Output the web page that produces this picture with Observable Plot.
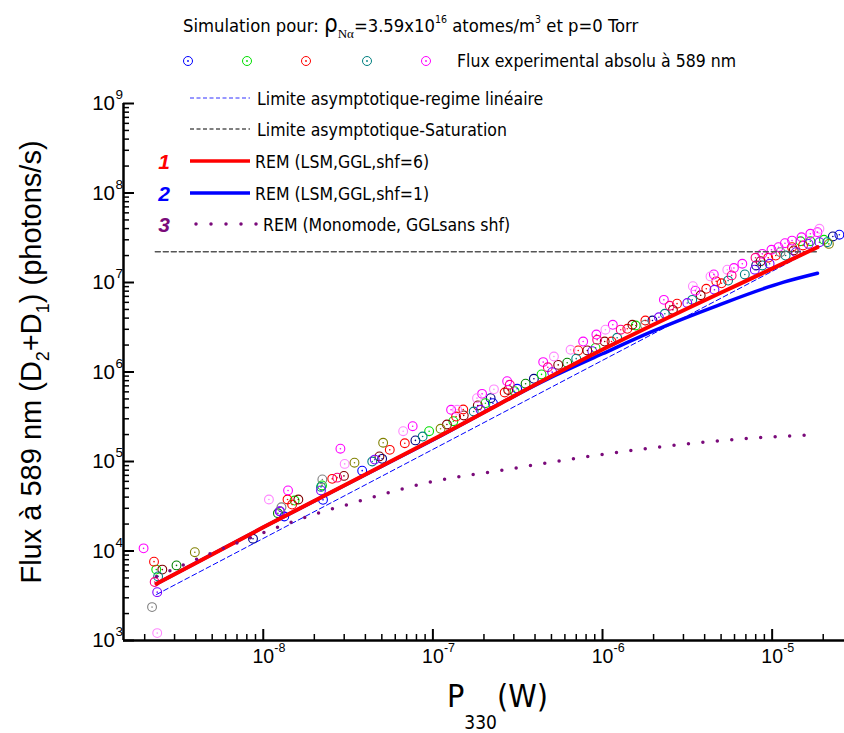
<!DOCTYPE html>
<html><head><meta charset="utf-8">
<script src="https://cdn.jsdelivr.net/npm/d3@7"></script>
<script src="https://cdn.jsdelivr.net/npm/@observablehq/plot@0.6"></script>
<style>
html,body{margin:0;padding:0;background:#fff;}
#chart{width:844px;height:733px;}
</style></head><body><div id="chart"></div>
<script>
// ---------- DATA (P330 in W, Flux in photons/s) ----------
const ptsBlue = [[1.33e-8,2.43e4],[2.25e-8,3.73e4],[3.83e-8,7.9e4],[2.26e-7,4.48e5],[3.14e-7,6.5e5],[2.49e-5,3.42e7]];
const ptsNavy = [[8.7e-9,1.37e4],[5.02e-8,1.07e5],[7.89e-8,1.72e5],[2.19e-7,5.1e5],[3.94e-7,8.4e5],[1.97e-6,3.76e6],[8.05e-6,1.55e7],[2.28e-5,3.27e7]];
const ptsGreen = [[2.34e-9,6.2e3],[1.53e-8,3.66e4],[2.22e-8,5.4e4],[9.5e-8,2.18e5],[1.32e-7,2.82e5],[2.04e-7,4.48e5],[3.03e-7,6.1e5],[4.37e-7,9.4e5],[9.1e-7,1.86e6],[1.57e-6,3.31e6],[1.47e-5,2.89e7],[1.68e-5,2.89e7],[2.02e-5,3.0e7]];
const ptsDarkGreen = [[3.08e-9,6.9e3],[1.22e-8,2.64e4],[3.52e-7,7.4e5],[6.19e-7,1.27e6]];
const ptsRed = [[2.27e-9,7.6e3],[1.39e-8,3.76e4],[1.48e-8,3.3e4],[2.55e-8,6.4e4],[5.57e-8,1.35e5],[6.83e-8,1.6e5],[1.37e-7,3.18e5],[1.51e-7,3.81e5],[2.65e-7,5.9e5],[7.19e-7,1.74e6],[1.13e-6,2.19e6],[1.40e-6,3.04e6],[1.79e-6,3.76e6],[2.75e-6,5.8e6],[4.09e-6,8.5e6],[4.68e-6,1.03e7],[5.03e-6,9.8e6],[9.48e-6,1.89e7],[1.05e-5,2.0e7],[1.31e-5,2.48e7],[1.52e-5,2.59e7]];
const ptsDarkRed = [[2.54e-9,6.2e3],[1.61e-8,3.76e4],[2.99e-8,6.9e4],[4.84e-8,1.14e5],[1.21e-7,2.59e5],[1.52e-7,3.27e5],[1.84e-7,4.23e5],[2.78e-7,6.3e5],[5.48e-7,1.2e6],[8.13e-7,1.74e6],[1.03e-6,2.19e6],[1.50e-6,3.37e6],[2.6e-6,4.95e6],[3.79e-6,7.2e6],[8.55e-6,1.73e7],[1.34e-5,2.28e7]];
const ptsTeal = [[2.4e-9,5.2e3],[2.19e-8,5.2e4],[4.39e-8,1.0e5],[8.7e-8,1.9e5],[1.74e-7,3.62e5],[7.0e-7,1.41e6],[1.22e-6,2.41e6],[2.33e-6,4.47e6],[3.38e-6,6.4e6],[5.5e-6,1.05e7],[6.9e-6,1.23e7],[8.75e-6,1.55e7],[1.2e-5,2.0e7],[2.11e-5,2.82e7]];
const ptsMagenta = [[1.97e-9,1.07e4],[1.40e-8,4.75e4],[2.85e-8,1.39e5],[7.6e-8,2.48e5],[1.28e-7,3.78e5],[1.95e-7,5.7e5],[2.74e-7,7.9e5],[4.47e-7,1.29e6],[7.69e-7,2.19e6],[9.2e-7,2.62e6],[1.15e-6,3.37e6],[2.3e-6,6.4e6],[3.53e-6,8.1e6],[4.53e-6,1.23e7],[5.95e-6,1.45e7],[6.67e-6,1.62e7],[8.75e-6,2.09e7],[9.91e-6,2.32e7],[1.09e-5,2.48e7],[1.19e-5,2.75e7],[1.31e-5,2.94e7],[1.49e-5,3.2e7],[1.68e-5,3.5e7],[1.85e-5,3.65e7]];
const ptsLightMagenta = [[2.37e-9,1.21e3],[1.08e-8,3.76e4],[3.02e-8,9.4e4],[6.68e-8,2.18e5],[1.39e-7,3.78e5],[1.82e-7,5.1e5],[2.29e-7,6.4e5],[5.17e-7,1.49e6],[6.48e-7,1.77e6],[1.04e-6,2.97e6],[3.41e-6,9.1e6],[4.33e-6,1.17e7],[5.44e-6,1.39e7],[1.9e-5,3.98e7]];
const ptsPink = [[2.29e-9,4.5e3],[2.73e-8,6.6e4],[2.84e-7,7.2e5],[4.76e-7,1.13e6],[9.3e-7,2.29e6],[1.28e-6,2.97e6],[2.49e-6,5.5e6],[5.77e-6,1.2e7],[7.98e-6,1.89e7]];
const ptsViolet = [[2.37e-9,3.47e3],[1.25e-8,2.78e4],[1.26e-8,2.76e4],[2.19e-8,4.75e4],[4.54e-8,1.05e5],[1.91e-7,3.78e5],[5.05e-7,9.96e5],[8.7e-7,1.71e6],[2.15e-6,4.09e6],[3.16e-6,5.9e6],[4.57e-6,8.3e6],[7.9e-6,1.39e7],[9.66e-6,1.62e7],[1.38e-5,2.18e7],[1.64e-5,2.7e7],[1.9e-5,2.82e7]];
const ptsOlive = [[3.95e-9,9.7e3],[3.45e-8,9.7e4],[5.09e-8,1.62e5],[1.11e-7,2.32e5],[2.16e-5,2.7e7]];
const ptsGray = [[2.21e-9,2.36e3],[1.28e-8,3.08e4],[2.23e-8,6.3e4],[1.78e-6,3.37e6],[1.12e-5,2.18e7]];

// model curves
const linP = [2.35e-9, 1.85e-5];        const linF = [3.27e3, 2.46e7];
const satP = [2.31e-9, 1.85e-5];        const satF = [2.2e7, 2.2e7];
const redP = [2.35e-9, 1e-8, 1e-7, 1e-6, 1e-5, 1.85e-5];
const redF = [4.3e3, 1.84e4, 1.76e5, 1.78e6, 1.43e7, 2.48e7];
const blueP = [2.35e-9, 1e-8, 1e-7, 4.9e-7, 1e-6, 1.92e-6, 4.76e-6, 1.17e-5, 1.85e-5];
const blueF = [4.3e3, 1.84e4, 1.74e5, 8.6e5, 1.6e6, 2.79e6, 5.53e6, 1.01e7, 1.27e7];
const monoP = [2.35e-9, 3.78e-9, 5.6e-9, 1e-8, 1.82e-8, 3.31e-8, 1e-7, 2.51e-7, 1e-6, 3.8e-6, 8.57e-6, 1.85e-5];
const monoF = [5.2e3, 7.64e3, 1.04e4, 1.6e4, 2.43e4, 3.4e4, 5.98e4, 7.94e4, 1.2e5, 1.63e5, 1.85e5, 2.0e5];

// axes
const xDomain = [1.5e-9, 2.67e-5];
const yDomain = [1e3, 1e9];
const xMajor = [1e-8, 1e-7, 1e-6, 1e-5];
const yMajor = [1e3, 1e4, 1e5, 1e6, 1e7, 1e8, 1e9];

// text
const legendLabels = ["Flux experimental absolu à 589 nm","Limite asymptotique-regime linéaire","Limite asymptotique-Saturation","REM (LSM,GGL,shf=6)","REM (LSM,GGL,shf=1)","REM (Monomode, GGLsans shf)"];

// ---------- BUILD ----------
const series = [
  ["#0000ff", ptsBlue], ["#000080", ptsNavy], ["#00e000", ptsGreen], ["#008000", ptsDarkGreen],
  ["#ff0000", ptsRed], ["#800000", ptsDarkRed], ["#008080", ptsTeal], ["#ff00ff", ptsMagenta],
  ["#ff88ff", ptsLightMagenta], ["#ff0080", ptsPink], ["#8000ff", ptsViolet], ["#808000", ptsOlive], ["#808080", ptsGray]
];
const points = series.flatMap(([c, pts]) => pts.map(([P, F]) => ({P, F, c})));
const xMinor = [], yMinor = [];
for (let e = -9; e <= -5; e++) for (let k = 2; k <= 9; k++) { const v = k * 10 ** e; if (v > xDomain[0] && v < xDomain[1]) xMinor.push(v); }
for (let e = 3; e < 9; e++) for (let k = 2; k <= 9; k++) yMinor.push(k * 10 ** e);

const W = 844, H = 733, ML = 123, MR = 0, MT = 103, MB = 93;
const innerW = W - ML - MR, innerH = H - MT - MB;
const tickFont = "Liberation Sans, Arial, sans-serif";

const chart = Plot.plot({
  width: W, height: H, marginLeft: ML, marginRight: MR, marginTop: MT, marginBottom: MB,
  x: {type: "log", domain: xDomain, axis: null},
  y: {type: "log", domain: yDomain, axis: null},
  style: {fontFamily: tickFont, background: "white", overflow: "visible"},
  marks: [
    Plot.dot(points, {x: "P", y: "F", r: 4.4, stroke: "c", fill: "none", strokeWidth: 1.1}),
    Plot.dot(points, {x: "P", y: "F", r: 0.8, fill: "c", stroke: "none"}),
    Plot.line(d3.zip(satP, satF), {stroke: "#555", strokeWidth: 1.5, strokeDasharray: "5,3"}),
    Plot.line(d3.zip(linP, linF), {stroke: "#0000ff", strokeWidth: 1, strokeDasharray: "5,3"}),
    Plot.line(d3.zip(blueP, blueF), {stroke: "#0000ff", strokeWidth: 3.5, curve: "monotone-x"}),
    Plot.line(d3.zip(redP, redF), {stroke: "#ff0000", strokeWidth: 4, curve: "monotone-x"}),
    Plot.line(d3.zip(monoP, monoF), {stroke: "#7a0a7a", strokeWidth: 3.5, strokeDasharray: "0,14.5", strokeLinecap: "round", curve: "monotone-x"}),
    Plot.ruleX(xMinor, {x: d => d, insetTop: innerH - 6, stroke: "black", strokeWidth: 1.5}),
    Plot.ruleX(xMajor, {x: d => d, insetTop: innerH - 11, stroke: "black", strokeWidth: 2}),
    Plot.ruleY(yMinor, {y: d => d, insetRight: innerW - 6, stroke: "black", strokeWidth: 1.5}),
    Plot.ruleY(yMajor, {y: d => d, insetRight: innerW - 11, stroke: "black", strokeWidth: 2}),
    Plot.ruleY([yDomain[0]], {stroke: "black", strokeWidth: 2.5}),
    Plot.ruleX([xDomain[0]], {stroke: "black", strokeWidth: 2.5}),
    Plot.text(xMajor, {x: d => d, frameAnchor: "bottom", text: () => "10", dy: 22, fontSize: 19.5, textAnchor: "middle", fill: "black"}),
    Plot.text(xMajor, {x: d => d, frameAnchor: "bottom", text: d => String(Math.round(Math.log10(d))), dy: 11, dx: 11, fontSize: 12.5, textAnchor: "start", fill: "black"}),
    Plot.text(yMajor, {y: d => d, frameAnchor: "left", text: () => "10", dx: -8.5, fontSize: 20.5, textAnchor: "end", fill: "black"}),
    Plot.text(yMajor, {y: d => d, frameAnchor: "left", text: d => String(Math.round(Math.log10(d))), dx: -8, dy: -8.5, fontSize: 13.5, textAnchor: "start", fill: "black"})
  ]
});
document.getElementById("chart").appendChild(chart);

// ---------- TITLES & LEGEND ----------
const svg = d3.select(chart);
const legendFont = "'Liberation Sans Narrow', 'DejaVu Sans Condensed', 'Liberation Sans', sans-serif";
function richText(g, x, y, parts, size, family, anchor) {
  const t = g.append("text").attr("x", x).attr("y", y).attr("font-size", size)
    .attr("font-family", family).attr("fill", "black").attr("text-anchor", anchor || "start");
  for (const p of parts) {
    const ts = t.append("tspan").text(p.t);
    if (p.dy) ts.attr("dy", p.dy);
    if (p.s) ts.attr("font-size", p.s);
    if (p.f) ts.attr("font-family", p.f);
  }
  return t;
}
// axis titles
const yt = svg.append("g").attr("transform", "translate(41,362) rotate(-90)");
richText(yt, 0, 0, [
  {t: "Flux à 589 nm (D"}, {t: "2", s: 18, dy: 8}, {t: "+D", dy: -8}, {t: "1", s: 18, dy: 8}, {t: ") (photons/s)", dy: -8}
], 29, tickFont, "middle");
richText(svg, 447, 707, [
  {t: "P"}, {t: "330", s: 19, dy: 22}, {t: "(W)", dy: -22}
], 32, legendFont);

// legend
const LF = 17.5;
const lg = svg.append("g");
richText(lg, 183, 32, [
  {t: "Simulation pour: "}, {t: "ρ", s: 24}, {t: "Nα", s: 13, dy: 6, f: "Liberation Serif, serif"},
  {t: "=3.59x10", dy: -6}, {t: "16", s: 10.5, dy: -9}, {t: " atomes/m", dy: 9}, {t: "3", s: 10.5, dy: -9}, {t: " et p=0 Torr", dy: 9}
], 18.3, legendFont);
const legendColors = ["#0000ff", "#00e000", "#ff0000", "#008080", "#ff00ff"];
const circleX = [188, 247, 306, 367, 426];
legendColors.forEach((c, i) => {
  lg.append("circle").attr("cx", circleX[i]).attr("cy", 61).attr("r", 4.5).attr("fill", "none").attr("stroke", c).attr("stroke-width", 1);
  lg.append("circle").attr("cx", circleX[i]).attr("cy", 61).attr("r", 0.9).attr("fill", c);
});
richText(lg, 457, 67, [{t: legendLabels[0]}], LF, legendFont);
const rows = [
  {y: 98, stroke: "#3030ff", w: 1, dash: "4,2.5", x1: 190, x2: 250, tx: 257},
  {y: 129, stroke: "#000", w: 1, dash: "4,2.5", x1: 190, x2: 250, tx: 257},
  {y: 161, stroke: "#ff0000", w: 3.5, x1: 190, x2: 250, tx: 255, num: "1"},
  {y: 193, stroke: "#0000ff", w: 3.5, x1: 190, x2: 250, tx: 255, num: "2"},
  {y: 224, stroke: "#7a0a7a", w: 3.5, dash: "0,15", cap: "round", x1: 196, x2: 257, tx: 263, num: "3"}
];
rows.forEach((r, i) => {
  const l = lg.append("line").attr("x1", r.x1).attr("x2", r.x2).attr("y1", r.y).attr("y2", r.y)
    .attr("stroke", r.stroke).attr("stroke-width", r.w);
  if (r.dash) l.attr("stroke-dasharray", r.dash);
  if (r.cap) l.attr("stroke-linecap", r.cap);
  richText(lg, r.tx, r.y + 6.5, [{t: legendLabels[i + 1]}], LF, legendFont);
  if (r.num) lg.append("text").attr("x", 164).attr("y", r.y + 8).attr("text-anchor", "middle")
    .attr("font-size", 21).attr("font-weight", "bold").attr("font-style", "italic")
    .attr("font-family", tickFont).attr("fill", r.stroke).text(r.num);
});
</script></body></html>
